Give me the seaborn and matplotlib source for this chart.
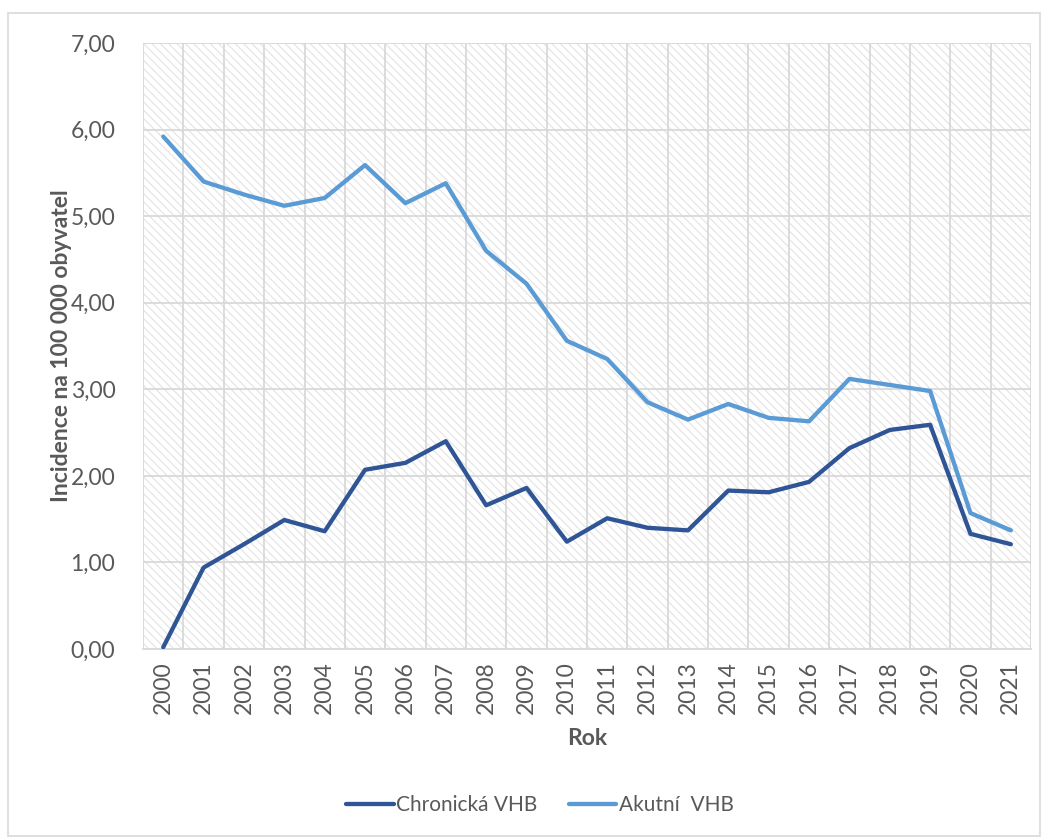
import numpy as np
import pandas as pd
import seaborn as sns
import matplotlib.pyplot as plt
from matplotlib.patches import Rectangle
from matplotlib.ticker import FuncFormatter, MultipleLocator

# data
roky = list(range(2000, 2022))
chronicka = [0.02, 0.94, 1.21, 1.49, 1.36, 2.07, 2.15, 2.40, 1.66, 1.86, 1.24,
             1.51, 1.40, 1.37, 1.83, 1.81, 1.93, 2.32, 2.53, 2.59, 1.33, 1.21]
akutni = [5.92, 5.40, 5.25, 5.12, 5.21, 5.59, 5.15, 5.38, 4.60, 4.22, 3.56,
          3.35, 2.85, 2.65, 2.83, 2.67, 2.63, 3.12, 3.05, 2.98, 1.57, 1.37]
serie = ['Chronická VHB', 'Akutní  VHB']
barvy = ['#2F5597', '#5B9BD5']

df = pd.DataFrame({'Rok': roky * 2,
                   'hodnota': chronicka + akutni,
                   'serie': [serie[0]] * len(roky) + [serie[1]] * len(roky)})

sns.set_style('white')
plt.rcParams['font.family'] = ['Lato', 'DejaVu Sans']
plt.rcParams['hatch.linewidth'] = 0.8
seda = '#595959'
mrizka = '#d9d9d9'
fs = 16.5

fig = plt.figure(figsize=(10.48, 8.39), dpi=100)
ax = fig.add_axes([0.1365, 0.2265, 0.8473, 0.7222])

# srafovane pozadi
ax.add_patch(Rectangle((0, 0), 1, 1, transform=ax.transAxes, facecolor='white',
                       edgecolor='#e2e2e2', hatch='\\\\\\\\', lw=0, zorder=0))

sns.lineplot(data=df, x='Rok', y='hodnota', hue='serie', palette=barvy,
             linewidth=3.1, ax=ax, legend=False, zorder=3)

ax.set_xlim(1999.5, 2021.5)
ax.set_ylim(0, 7)
ax.set_xticks(roky)
ax.set_xticklabels([str(r) for r in roky], rotation=90)
ax.xaxis.set_minor_locator(MultipleLocator(1, offset=0.5))
ax.yaxis.set_major_locator(MultipleLocator(1))
ax.yaxis.set_major_formatter(FuncFormatter(lambda v, p: f'{v:.2f}'.replace('.', ',')))

ax.grid(True, which='major', axis='y', color=mrizka, lw=1.3, zorder=1)
ax.grid(True, which='minor', axis='x', color=mrizka, lw=1.3, zorder=1)
ax.set_axisbelow(True)
for s in ['top', 'right', 'left']:
    ax.spines[s].set_visible(False)
ax.spines['bottom'].set_color(mrizka)
ax.spines['bottom'].set_linewidth(1.3)
ax.tick_params(axis='x', which='both', length=0, labelsize=fs, colors=seda, pad=9)
ax.tick_params(axis='y', which='both', length=0, labelsize=fs, colors=seda, pad=20)

ax.set_xlabel('Rok', fontsize=fs, fontweight='bold', color=seda, labelpad=10)
ax.set_ylabel('Incidence na 100 000 obyvatel', fontsize=fs, fontweight='bold',
              color=seda, labelpad=-1)

handles = [plt.Line2D([], [], color=c, lw=3.1) for c in barvy]
fig.legend(handles, serie, loc='center', bbox_to_anchor=(0.515, 0.04), ncol=2,
           frameon=False, fontsize=15, labelcolor=seda, handlelength=2.3,
           handletextpad=0.1, columnspacing=1.5)

# ramecek kolem celeho grafu
fig.add_artist(Rectangle((0.008, 0.004), 0.984, 0.981, transform=fig.transFigure,
                         fill=False, edgecolor=mrizka, lw=1.2))

fig.savefig('out.png', dpi=100)
